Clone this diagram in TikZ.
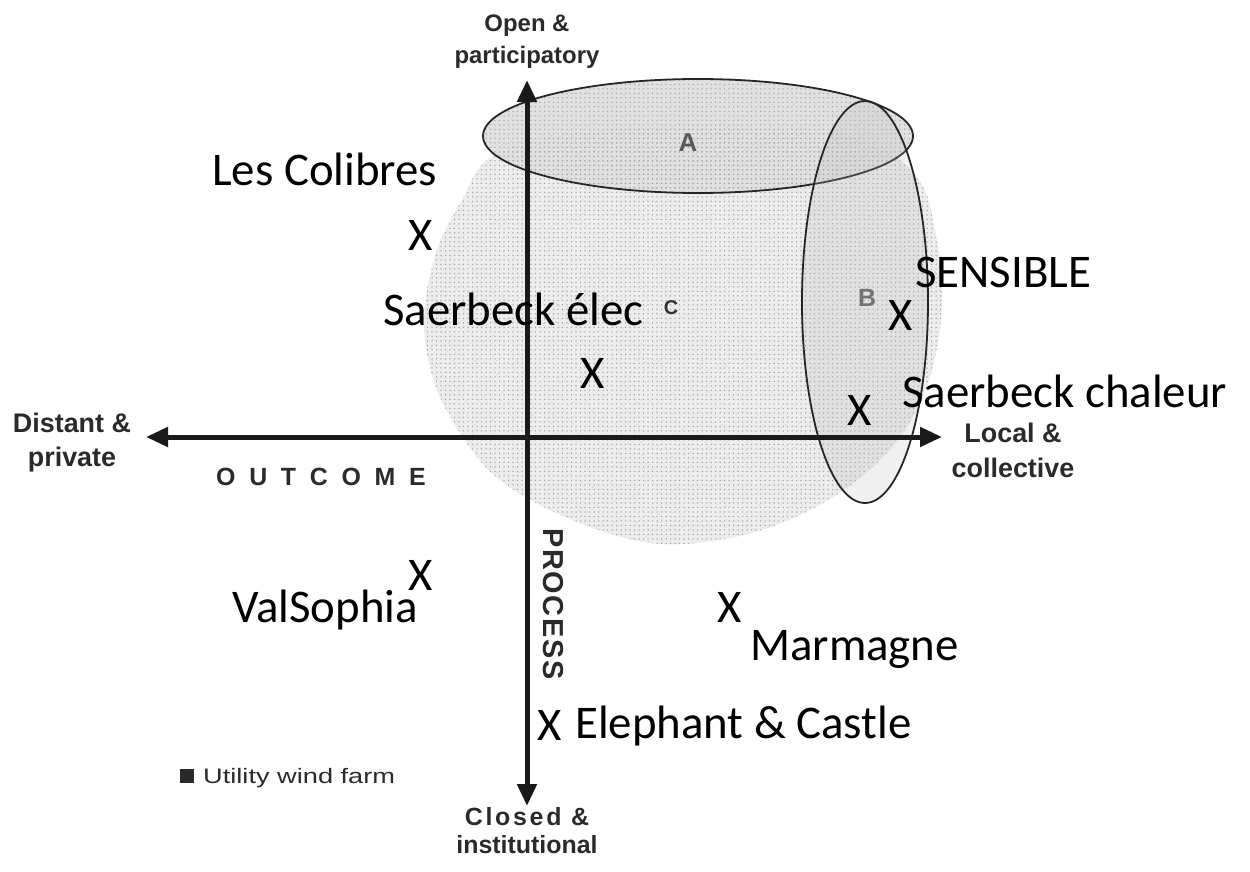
\documentclass[tikz,border=0pt]{standalone}
\usepackage{fontspec}
\setmainfont{Liberation Sans}
\newfontfamily\calib{Carlito}
\newfontfamily\outfont[LetterSpace=55]{Liberation Sans}
\newfontfamily\procfont[LetterSpace=6]{Liberation Sans}
\newfontfamily\closfont[LetterSpace=11]{Liberation Sans}
\usetikzlibrary{arrows.meta,patterns.meta}
\definecolor{axcol}{HTML}{1A1A1A}
\definecolor{lblcol}{HTML}{2A2A2A}
\begin{document}
\begin{tikzpicture}[x=1bp,y=-1bp,
  axisline/.style={line width=5bp, axcol, {Triangle[length=22bp,width=19bp]}-{Triangle[length=22bp,width=19bp]}},
  ell/.style={line width=1.8bp, black!85, fill=gray!55, fill opacity=0.22, draw opacity=1},
  stip/.style={pattern={Dots[distance=4.5bp, radius=0.75bp]}, pattern color=gray!75},
  stipb/.style={pattern={Dots[distance=6bp, angle=33, radius=0.6bp]}, pattern color=gray!60},
  axlbl/.style={align=center, text=lblcol, inner sep=0pt, anchor=base},
  zone/.style={inner sep=0pt},
  case/.style={font=\calib\fontsize{47}{50}\selectfont, inner sep=0pt, anchor=base west},
  xmark/.style={font=\calib\fontsize{47}{50}\selectfont, inner sep=0pt, anchor=base}]
\useasboundingbox (0,0) rectangle (1250,872);

% stippled region C
\def\blobpath{plot[smooth cycle, tension=0.6] coordinates {(490,158) (462,200) (437,250) (424,315) (432,375) (455,425) (496,477) (565,517) (650,543) (730,538) (800,515) (860,478) (905,430) (932,370) (942,300) (935,230) (915,175) (850,135) (700,125) (560,135)}}
\def\apath{(698,136) ellipse [x radius=215, y radius=57]}
\fill[gray!14] \blobpath;
\fill[gray!14] \apath;
\fill[stip] \blobpath;
\fill[stipb] \blobpath;
\fill[stip] \apath;
\fill[stipb] \apath;

% ellipses A and B
\draw[ell] \apath;
\draw[ell] (865,302) ellipse [x radius=63, y radius=201];

% axes
\coordinate (L) at (146,437);
\coordinate (R) at (942,437);
\coordinate (T) at (527,80);
\coordinate (Bt) at (527,806);
\draw[axisline] (L) -- (R);
\draw[axisline] (T) -- (Bt);

% zone letters
\node[zone, text=black!65, font=\bfseries\fontsize{26}{28}\selectfont] (zA) at (688,143) {A};
\node[zone, text=black!55, font=\bfseries\fontsize{25}{28}\selectfont] (zB) at (867,298) {B};
\node[zone, text=black!80, font=\bfseries\fontsize{20}{22}\selectfont] (zC) at (671,308) {C};

% axis labels (base = baseline of the last line)
\node[axlbl, font=\bfseries\fontsize{24}{32}\selectfont] (open) at (527,63) {Open \&\\participatory};
\node[axlbl, font=\bfseries\fontsize{27}{34}\selectfont] (dist) at (72,466) {Distant \&\\private};
\node[axlbl, font=\bfseries\fontsize{27}{35}\selectfont] (loc) at (1013,477) {Local \&\\collective};
\node[axlbl, font=\bfseries\fontsize{25}{28}\selectfont] (closed) at (527,853) {{\closfont Closed \&}\\institutional};
\node[inner sep=0pt, anchor=base west, text=lblcol, font=\outfont\bfseries\fontsize{25}{28}\selectfont] (outc) at (216,485) {OUTCOME};
\node[inner sep=0pt, anchor=base west, rotate=-90, text=lblcol, font=\procfont\bfseries\fontsize{29}{30}\selectfont] (proc) at (543,528) {PROCESS};
\node[inner sep=0pt, anchor=base west, text=lblcol, font=\fontsize{21}{24}\selectfont] (util) at (180,783) {\rule{14bp}{14bp}\hspace{9bp}\scalebox{1.3}[1]{Utility wind farm}};

% cases
\node[case] (colib) at (212,185) {Les Colibres};
\node[xmark] (xcolib) at (421,250) {X};
\node[case] (selec) at (383,325) {Saerbeck élec};
\node[xmark] (xselec) at (593,388) {X};
\node[case] (sens) at (915,287) {SENSIBLE};
\node[xmark] (xsens) at (901,330) {X};
\node[case] (schal) at (902,407) {Saerbeck chaleur};
\node[xmark] (xschal) at (860,425) {X};
\node[case] (vals) at (232,622) {ValSophia};
\node[xmark] (xvals) at (421,590) {X};
\node[case] (marm) at (750,660) {Marmagne};
\node[xmark] (xmarm) at (730,622) {X};
\node[case] (eleph) at (575,738) {Elephant \& Castle};
\node[xmark] (xeleph) at (550,740) {X};
\end{tikzpicture}
\end{document}
